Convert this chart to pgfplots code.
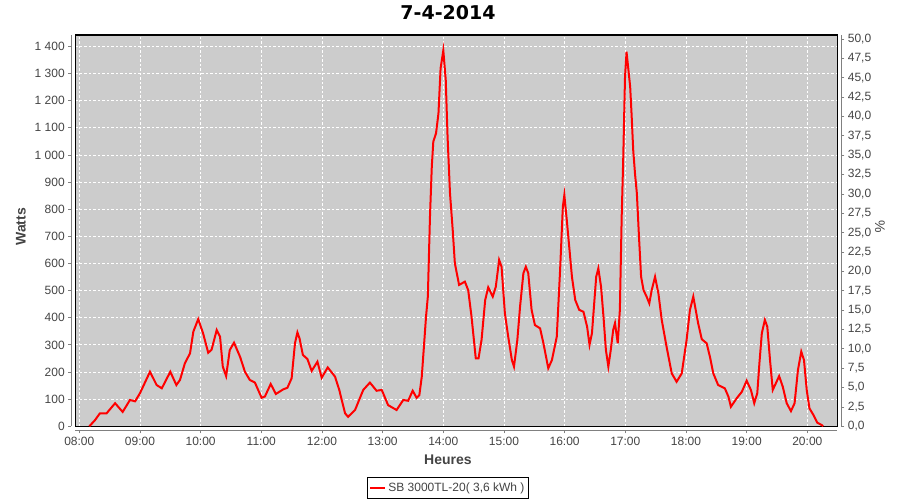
\documentclass[border=0pt]{standalone}
\usepackage{pgfplots}
\usepackage{pgfplotstable}
\pgfplotsset{compat=1.18}
\usepackage{fontspec}
\setmainfont{Liberation Sans}
\newfontfamily\titlefont{DejaVu Sans}
\definecolor{plotbg}{RGB}{204,204,204}
\definecolor{ticktext}{RGB}{68,68,68}
\definecolor{axisgray}{RGB}{128,128,128}

% heures (decimal), watts
\pgfplotstableread{
h W
8.165 0
8.26 23
8.34 48
8.45 48
8.59 85
8.715 53
8.835 97
8.92 92
9.0 122
9.165 201
9.275 152
9.36 140
9.5 201
9.6 152
9.66 171
9.74 232
9.825 269
9.88 349
9.96 395
10.04 343
10.125 271
10.18 282
10.265 355
10.32 330
10.365 220
10.42 185
10.48 281
10.55 308
10.65 256
10.73 201
10.81 171
10.895 161
11.005 105
11.06 110
11.155 156
11.24 119
11.36 136
11.43 142
11.5 177
11.555 306
11.595 346
11.63 324
11.685 263
11.76 248
11.83 204
11.925 238
11.995 179
12.095 217
12.215 183
12.285 134
12.38 48
12.43 35
12.545 60
12.68 134
12.79 161
12.9 131
12.985 134
13.09 78
13.23 60
13.34 97
13.42 94
13.495 131
13.56 105
13.605 115
13.645 183
13.68 293
13.715 404
13.745 478
13.78 772
13.81 957
13.835 1049
13.88 1080
13.92 1153
13.955 1319
14.0 1385
14.04 1276
14.07 1067
14.11 859
14.155 723
14.19 601
14.26 521
14.355 533
14.41 502
14.465 404
14.535 250
14.58 250
14.63 318
14.69 465
14.74 512
14.815 478
14.865 514
14.92 613
14.96 588
15.015 416
15.07 330
15.13 244
15.165 220
15.22 318
15.265 441
15.32 564
15.36 588
15.40 564
15.455 429
15.51 373
15.595 361
15.65 306
15.73 214
15.79 244
15.87 330
15.925 576
15.97 809
15.995 852
16.035 760
16.08 650
16.12 551
16.175 465
16.24 429
16.31 422
16.37 367
16.41 300
16.45 343
16.52 551
16.555 582
16.6 514
16.64 404
16.68 281
16.72 220
16.76 281
16.8 355
16.83 380
16.875 306
16.91 429
16.94 772
16.965 981
16.995 1288
17.02 1380
17.08 1251
17.105 1141
17.13 1018
17.16 930
17.19 859
17.225 699
17.26 551
17.30 502
17.35 478
17.395 453
17.435 502
17.49 551
17.545 490
17.6 392
17.68 293
17.765 195
17.845 164
17.93 195
18.01 318
18.065 429
18.12 478
18.2 380
18.26 321
18.34 306
18.395 256
18.45 195
18.53 152
18.64 140
18.70 109
18.74 72
18.835 103
18.92 127
19.0 168
19.07 134
19.125 85
19.175 122
19.21 232
19.25 343
19.3 392
19.34 367
19.385 244
19.43 134
19.48 158
19.535 185
19.595 146
19.66 85
19.73 56
19.79 85
19.845 207
19.9 275
19.945 244
19.99 134
20.035 66
20.1 42
20.165 13
20.235 5
20.26 0
}\power

\begin{document}
\begin{tikzpicture}[x=1pt,y=1pt]
\useasboundingbox (0,0) rectangle (900,500);
\node[font=\titlefont\bfseries\fontsize{19}{23}\selectfont] at (448,487.5) {7-4-2014};

\begin{axis}[
    at={(75.3pt,73.7pt)}, anchor=south west,
    scale only axis, width=762pt, height=391.3pt,
    xmin=7.934, xmax=20.494, ymin=0, ymax=1442,
    axis background/.style={fill=plotbg},
    axis line style={black, line width=1.2pt},
    grid=major,
    grid style={white, dash pattern=on 2.5pt off 2pt, line width=0.8pt},
    xtick={8,...,20},
    xticklabels={08:00,09:00,10:00,11:00,12:00,13:00,14:00,15:00,16:00,17:00,18:00,19:00,20:00},
    ytick={0,100,...,1400},
    xtick pos=bottom, ytick pos=left,
    tick align=outside, major tick length=3pt,
    tick style={axisgray, line width=0.8pt},
    xtick style={yshift=-4pt}, ytick style={xshift=-4pt},
    tick label style={font=\fontsize{12}{14}\selectfont, text=ticktext},
    xticklabel style={yshift=-4pt},
    yticklabel style={xshift=-4pt, /pgf/number format/1000 sep={\ }},
    /pgf/number format/assume math mode=true,
    xlabel={Heures}, ylabel={Watts},
    label style={font=\bfseries\fontsize{14}{16}\selectfont, text=ticktext},
    xlabel style={at={(axis description cs:0.489,-0.0861)}, anchor=center},
    ylabel style={at={(axis description cs:-0.0713,0.51)}, anchor=center},
    legend style={at={(axis description cs:0.489,-0.157)}, anchor=center,
        draw=black, line width=0.8pt, fill=white, font=\fontsize{12}{14}\selectfont, text=ticktext,
        inner xsep=2pt, inner ysep=3.5pt, legend cell align=left},
    legend image code/.code={\draw[red, line width=2pt] (0pt,0pt) -- (15pt,0pt);},
]
\addplot[red, line width=2pt] table[x=h, y=W] {\power};
\addlegendentry{SB 3000TL-20( 3,6 kWh )}
\end{axis}

\begin{axis}[
    at={(75.3pt,73.7pt)}, anchor=south west,
    scale only axis, width=762pt, height=391.3pt,
    xmin=7.934, xmax=20.494, ymin=0, ymax=50.52,
    axis x line=none,
    axis y line*=right,
    y axis line style={draw=none},
    ytick={0,2.5,5,7.5,10,12.5,15,17.5,20,22.5,25,27.5,30,32.5,35,37.5,40,42.5,45,47.5,50},
    tick align=outside, major tick length=3pt,
    tick style={axisgray, line width=0.8pt},
    ytick style={xshift=4pt},
    tick label style={font=\fontsize{12}{14}\selectfont, text=ticktext},
    yticklabel style={xshift=4pt, /pgf/number format/.cd, fixed, fixed zerofill, precision=1, use comma},
    /pgf/number format/assume math mode=true,
    ylabel={\%},
    ylabel style={font=\fontsize{14}{16}\selectfont, text=ticktext, at={(axis description cs:1.056,0.51)}, anchor=center, rotate=180},
]
\addplot[draw=none] coordinates {(8,0)};
\end{axis}

\draw[axisgray, line width=0.9pt] (71.3,73.7) -- (71.3,465);
\draw[axisgray, line width=0.9pt] (75.3,69.3) -- (837.3,69.3);
\draw[axisgray, line width=0.9pt] (841.3,73.7) -- (841.3,465);
\end{tikzpicture}
\end{document}
